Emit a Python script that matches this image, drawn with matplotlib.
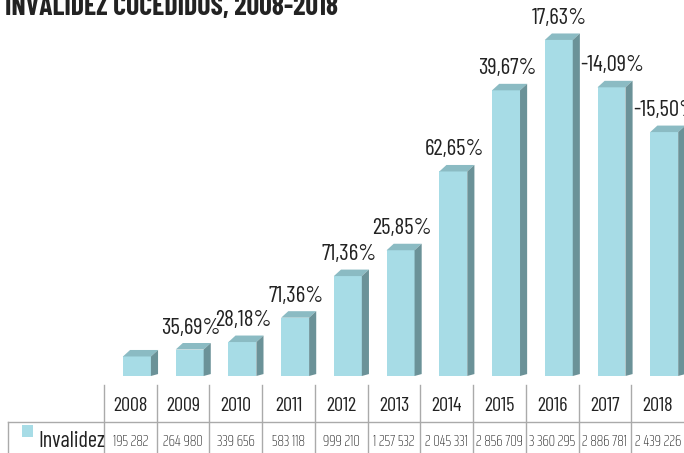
"""Invalidez concedidos 2008-2018 — 3D-style bars with data table"""
import numpy as np, matplotlib
matplotlib.use('Agg')
import matplotlib.pyplot as plt
from matplotlib.patches import Polygon, Rectangle
from matplotlib.lines import Line2D

FONT = ['Barlow Condensed', 'Roboto Condensed', 'DejaVu Sans']
NUMFONT = ['Saira ExtraCondensed', 'Roboto Condensed', 'DejaVu Sans']
plt.rcParams.update({'font.family': FONT})

years = ['2008', '2009', '2010', '2011', '2012', '2013', '2014', '2015', '2016', '2017', '2018']
invalidez = [195282, 264980, 339656, 583118, 999210, 1257532, 2045331, 2856709, 3360295, 2886781, 2439226]
pct_labels = ['', '35,69%', '28,18%', '71,36%', '71,36%', '25,85%', '62,65%', '39,67%', '17,63%', '-14,09%', '-15,50%']
series_name = 'Invalidez'
title = 'INVALIDEZ COCEDIDOS, 2008-2018'

FRONT = '#A7DCE6'
TOP = '#8BBBC3'
SIDE = '#6B9298'
GRID = '#AAAAAA'
TXT = '#222222'

W, H = 684, 453
fig = plt.figure(figsize=(W / 100, H / 100), dpi=100, facecolor='white')

def fx(px):
    return px / W

def fy(py):
    return 1 - py / H

# bar axes: x from 104px to 684px, bottom at 376px
x0, x1, ybot = 104, 684, 376
ax = fig.add_axes([fx(x0), fy(ybot), fx(x1 - x0), ybot / H])
ax.set_xlim(-0.5, len(years) - 0.5)
ax.set_ylim(0, ybot * 10000)
ax.axis('off')

bw = 0.53      # front width
off = -0.14    # front left offset from column centre
dx = 0.135     # depth in x
dy = 65000     # depth in y

for i, v in enumerate(invalidez):
    left = i + off
    right = left + bw
    ax.add_patch(Rectangle((left, 0), bw, v, facecolor=FRONT, edgecolor='none', zorder=2))
    ax.add_patch(Polygon([(left, v), (left + dx, v + dy), (right + dx, v + dy), (right, v)],
                         closed=True, facecolor=TOP, edgecolor='none', zorder=2))
    ax.add_patch(Polygon([(right, 0), (right + dx, dy * 0.3), (right + dx, v + dy), (right, v)],
                         closed=True, facecolor=SIDE, edgecolor='none', zorder=2))
    if pct_labels[i]:
        ax.annotate(pct_labels[i], xy=(left + bw / 2 + 0.02, v), xytext=(0, 16),
                    textcoords='offset pixels', ha='center', va='baseline',
                    fontsize=16.5, color=TXT, annotation_clip=False, zorder=3)

# title (top cut off like the source)
fig.text(fx(5), fy(15), title, fontsize=20, fontweight='bold', color=TXT,
         ha='left', va='baseline')

# data table
colw = (x1 - x0) / len(years)
row_top, row_mid, row_bot = 385, 422, 453
for k in range(len(years)):
    xb = x0 + k * colw
    fig.add_artist(Line2D([fx(xb), fx(xb)], [fy(row_top), fy(row_bot)], color=GRID, lw=1))
fig.add_artist(Line2D([fx(8), fx(8)], [fy(row_mid), fy(row_bot)], color=GRID, lw=1))
fig.add_artist(Line2D([fx(8), fx(W)], [fy(row_mid), fy(row_mid)], color=GRID, lw=1))

for k, (yr, v) in enumerate(zip(years, invalidez)):
    xc = x0 + (k + 0.5) * colw
    fig.text(fx(xc), fy(411), yr, fontsize=14.5, color=TXT, ha='center', va='baseline')
    fig.text(fx(xc), fy(446), f"{v:,}".replace(',', ' '), fontsize=11.5, fontweight='light',
             family=NUMFONT, color=TXT, ha='center', va='baseline')

fig.add_artist(Rectangle((fx(22), fy(437)), fx(11), 12 / H, facecolor=FRONT, edgecolor='none'))
fig.text(fx(38), fy(447), series_name, fontsize=16, color=TXT, ha='left', va='baseline')

fig.savefig('out.png', dpi=100, facecolor='white')
